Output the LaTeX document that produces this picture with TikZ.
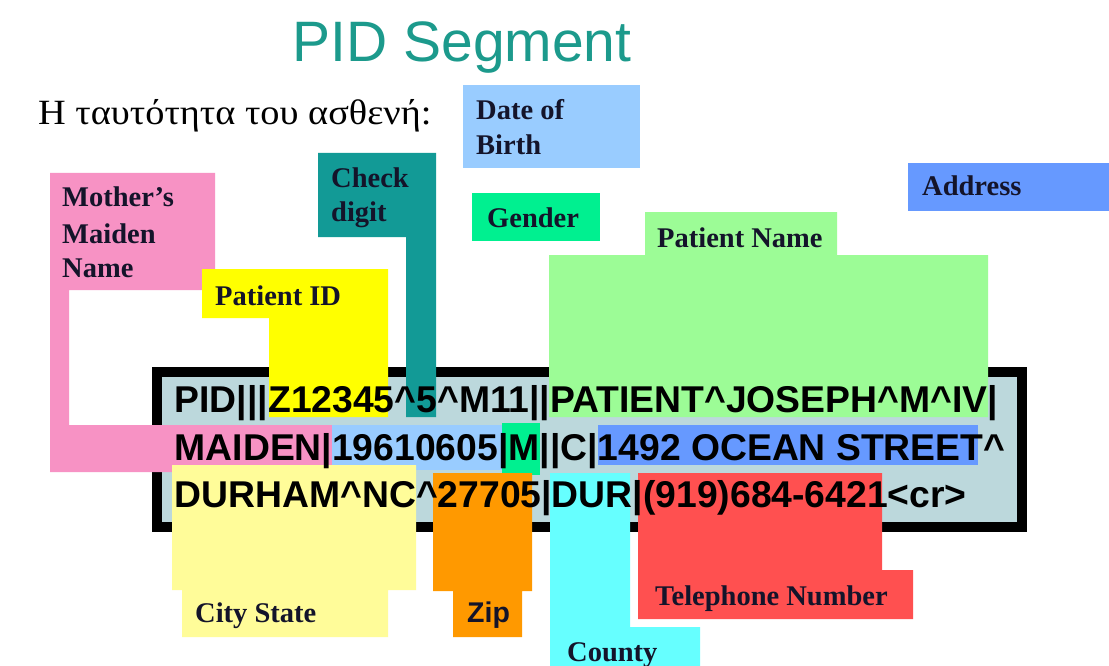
\documentclass[tikz,border=0pt]{standalone}
\usepackage{fontspec}
\setmainfont{Liberation Serif}
\newfontfamily\arialfam{Liberation Sans}

% palette
\definecolor{titleteal}{HTML}{1C9A8C}
\definecolor{labelink}{HTML}{14142A}
\definecolor{framefill}{HTML}{BCD8DC}
\definecolor{pinkc}{HTML}{F792C4}
\definecolor{yellowc}{HTML}{FFFF00}
\definecolor{tealc}{HTML}{129A96}
\definecolor{dobc}{HTML}{99CCFF}
\definecolor{genderc}{HTML}{00F090}
\definecolor{addrc}{HTML}{6699FF}
\definecolor{namec}{HTML}{9CFC96}
\definecolor{cityc}{HTML}{FFFC99}
\definecolor{zipc}{HTML}{FF9900}
\definecolor{countyc}{HTML}{66FFFF}
\definecolor{telc}{HTML}{FF5050}

\newcommand{\caretsym}{\textasciicircum}

\tikzset{
  lbl/.style={anchor=base west, inner sep=0pt, text=labelink,
    font=\bfseries\fontsize{28.5}{34}\selectfont},
  lblsans/.style={anchor=base west, inner sep=0pt, text=labelink,
    font=\arialfam\bfseries\fontsize{28.5}{34}\selectfont},
  coderow/.style={anchor=base west, inner sep=0pt, text=black,
    font=\arialfam\bfseries\fontsize{37.3}{44}\selectfont},
}

\begin{document}
\begin{tikzpicture}[x=1pt,y=-1pt]
\useasboundingbox (0,0) rectangle (1109,666);
\fill[white] (0,0) rectangle (1109,666);

% heading and intro line
\node[anchor=base, inner sep=0pt, text=titleteal,
  font=\arialfam\fontsize{57}{62}\selectfont] (title) at (462,62) {PID Segment};
\node[anchor=base west, inner sep=0pt,
  font=\fontsize{35.5}{40}\selectfont] (intro) at (38,125)
  {\scalebox{1.08}[1]{Η ταυτότητα του ασθενή:}};

% message frame
\filldraw[fill=framefill, draw=black, line width=10pt] (157,372) rectangle (1022,527);

% field highlights
\fill[pinkc] (50,173) -- (215,173) -- (215,290) -- (69,290) -- (69,425)
  -- (332,425) -- (332,472) -- (50,472) -- cycle;
\fill[yellowc] (202,269) -- (388,269) -- (388,417) -- (269,417)
  -- (269,318) -- (202,318) -- cycle;
\fill[tealc] (318,153) -- (436,153) -- (436,417) -- (406,417)
  -- (406,237) -- (318,237) -- cycle;
\fill[dobc] (463,85) rectangle (640,168);
\fill[dobc] (332,425) rectangle (502,470);
\fill[genderc] (472,193) rectangle (600,241);
\fill[genderc] (502,423) rectangle (540,475);
\fill[addrc] (908,163) rectangle (1109,211);
\fill[addrc] (598,425) rectangle (978,465);
\fill[namec] (645,212) -- (837,212) -- (837,255) -- (988,255) -- (988,417)
  -- (549,417) -- (549,255) -- (645,255) -- cycle;
\fill[cityc] (172,465) -- (416,465) -- (416,590) -- (388,590) -- (388,637)
  -- (182,637) -- (182,590) -- (172,590) -- cycle;
\fill[zipc] (433,473) -- (532,473) -- (532,591) -- (522,591) -- (522,637)
  -- (453,637) -- (453,591) -- (433,591) -- cycle;
\fill[countyc] (550,473) -- (630,473) -- (630,627) -- (700,627)
  -- (700,666) -- (550,666) -- cycle;
\fill[telc] (638,473) -- (882,473) -- (882,570) -- (913,570)
  -- (913,619) -- (638,619) -- cycle;

% the PID segment itself
\node[coderow] (row1) at (174.5,412) {PID|||Z12345\caretsym 5\caretsym M11||PATIENT\caretsym JOSEPH\caretsym M\caretsym IV|};
\node[coderow] (row2) at (174.5,460) {MAIDEN|19610605|M||C|1492 OCEAN STREET\caretsym};
\node[coderow] (row3) at (174.5,507) {DURHAM\caretsym NC\caretsym 27705|DUR|(919)684-6421<cr>};

% field labels
\node[lbl] (mmn1) at (62,207) {Mother’s};
\node[lbl] (mmn2) at (62,243) {Maiden};
\node[lbl] (mmn3) at (62,277) {Name};
\node[lbl] (pid) at (215,305) {Patient ID};
\node[lbl] (chk1) at (331,188) {Check};
\node[lbl] (chk2) at (331,222) {digit};
\node[lbl] (dob1) at (476,120) {Date of};
\node[lbl] (dob2) at (476,155) {Birth};
\node[lbl] (gender) at (487,227) {Gender};
\node[lbl] (pname) at (657,247) {Patient Name};
\node[lbl] (addr) at (922,196) {Address};
\node[lbl] (city) at (195,622) {City State};
\node[lblsans] (zip) at (467,622) {Zip};
\node[lbl] (tel) at (655,605) {Telephone Number};
\node[lbl] (county) at (567,661) {County};
\end{tikzpicture}
\end{document}
